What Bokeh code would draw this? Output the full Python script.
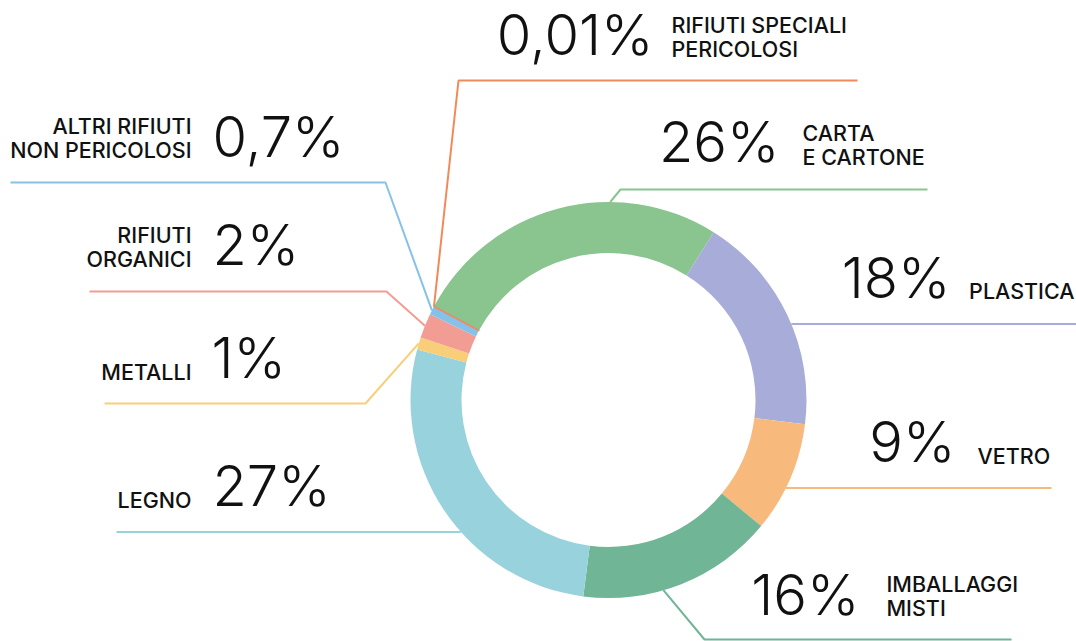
import math
from bokeh.plotting import figure
from bokeh.models import ColumnDataSource, Range1d
from bokeh.core.properties import value
from bokeh.embed import file_html
from bokeh.resources import INLINE

# ---------------- data ----------------
categories = ["CARTA E CARTONE", "PLASTICA", "VETRO", "IMBALLAGGI MISTI", "LEGNO",
              "METALLI", "RIFIUTI ORGANICI", "ALTRI RIFIUTI NON PERICOLOSI",
              "RIFIUTI SPECIALI PERICOLOSI"]
label_lines = [["CARTA", "E CARTONE"], ["PLASTICA"], ["VETRO"], ["IMBALLAGGI", "MISTI"],
               ["LEGNO"], ["METALLI"], ["RIFIUTI", "ORGANICI"],
               ["ALTRI RIFIUTI", "NON PERICOLOSI"], ["RIFIUTI SPECIALI", "PERICOLOSI"]]
values = [26, 18, 9, 16, 27, 1, 2, 0.7, 0.01]
pct_labels = ["26%", "18%", "9%", "16%", "27%", "1%", "2%", "0,7%", "0,01%"]
colors = ["#8AC58F", "#A7ADD8", "#F8B97D", "#6FB596", "#98D3DD",
          "#F9CE78", "#F29D94", "#86C1EA", "#F2895A"]

# ---------------- layout (page pixels, origin top-left) ----------------
W, H = 1076, 641
CX, CY = 608, 399.5
R_OUT, R_IN = 198, 147
START = 298.2  # clockwise from 12 o'clock

leader_anchor = [0.5, 67.4, 116.4, 163.9, 228.2, 286.6, 292.0, 296.9, 298.2]
leader_elbow = [(620, 189), None, None, (704, 639), None, (365, 403), (386, 291), (385, 182), (458, 80)]
leader_end = [927, 1076, 1051, 1011, 116, 104, 89, 10, 857]

NUM_SIZE, LAB_SIZE = 56, 21.5
NUM_OFF, LAB_OFF = 0.39 * NUM_SIZE, 0.35 * LAB_SIZE   # svg baseline correction
num_pos = [(779, 163, "right"), (950, 299, "right"), (955, 463, "right"), (859, 616, "right"),
           (212, 507, "left"), (211, 379, "left"), (212, 266, "left"), (212, 158, "left"),
           (653, 56, "right")]
lab_pos = [(802, 140, "left"), (1074, 298, "right"), (977, 463, "left"), (886, 591, "left"),
           (191, 507, "right"), (191, 379, "right"), (191, 242, "right"), (191, 133, "right"),
           (671, 32, "left")]
LINE_GAP = 24


def dx(X):
    return X


def dy(Y):
    return H - Y


p = figure(width=W, height=H, x_range=Range1d(0, W), y_range=Range1d(0, H),
           x_axis_type=None, y_axis_type=None, toolbar_location=None,
           output_backend="svg", min_border=0)
p.grid.visible = False
p.outline_line_color = None
p.background_fill_color = "white"
p.border_fill_color = "white"

# ---- leader lines ----
xs, ys = [], []
for i in range(len(values)):
    th = math.radians(leader_anchor[i])
    rx = CX + R_OUT * math.sin(th)
    ry = CY - R_OUT * math.cos(th)
    if leader_elbow[i] is None:
        ex, ey = rx, ry
    else:
        ex, ey = leader_elbow[i]
    xs.append([dx(rx), dx(ex), dx(leader_end[i])])
    ys.append([dy(ry), dy(ey), dy(ey)])
p.multi_line(xs=xs, ys=ys, line_color=colors, line_width=2)

# ---- donut ----
total = sum(values)
starts, ends = [], []
acc = START
for v in values:
    span = v / total * 360.0
    t1, t2 = acc, acc + span
    starts.append(math.radians(90 - t2))
    ends.append(math.radians(90 - t1))
    acc = t2
src = ColumnDataSource(dict(start=starts, end=ends, color=colors,
                            lc=[None] * 8 + [colors[8]], cat=categories))
p.annular_wedge(x=dx(CX), y=dy(CY), inner_radius=R_IN, outer_radius=R_OUT,
                inner_radius_units="screen", outer_radius_units="screen",
                start_angle="start", end_angle="end", fill_color="color",
                line_color="lc", line_width=1.5, source=src)

# ---- percentages ----
nsrc = ColumnDataSource(dict(x=[dx(a[0]) for a in num_pos],
                             y=[dy(a[1] - NUM_OFF) for a in num_pos],
                             t=pct_labels, al=[a[2] for a in num_pos],
                             fs=["300"] * len(pct_labels)))
p.text(x="x", y="y", text="t", text_align="al", text_baseline="alphabetic",
       text_font=value("Inter"), text_font_size=f"{NUM_SIZE}px", text_font_style="fs",
       text_color="#111111", source=nsrc)

# ---- category labels ----
lx, ly, lt, la = [], [], [], []
for i, lines in enumerate(label_lines):
    X, Y, al = lab_pos[i]
    for k, s in enumerate(lines):
        lx.append(dx(X))
        ly.append(dy(Y + k * LINE_GAP - LAB_OFF))
        lt.append(s)
        la.append(al)
lsrc = ColumnDataSource(dict(x=lx, y=ly, t=lt, al=la, fs=["500"] * len(lt)))
p.text(x="x", y="y", text="t", text_align="al", text_baseline="alphabetic",
       text_font=value("Inter"), text_font_size=f"{LAB_SIZE}px", text_font_style="fs",
       text_color="#111111", source=lsrc)

open("out.html", "w").write(file_html(p, INLINE))
